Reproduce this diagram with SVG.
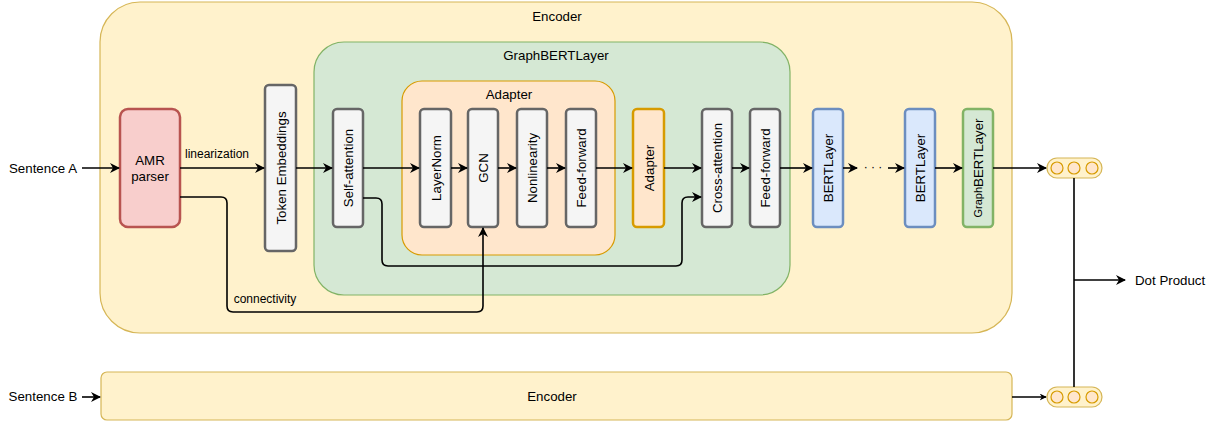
<svg xmlns="http://www.w3.org/2000/svg" width="1217" height="421" viewBox="0 0 1217 421">
<defs>
<marker id="ah" viewBox="0 0 10 10" refX="9" refY="5" markerWidth="7" markerHeight="7" markerUnits="userSpaceOnUse" orient="auto">
<path d="M0,0 L10,5 L0,10 L3,5 Z" fill="#000"/>
</marker>
<marker id="ahs" viewBox="0 0 10 10" refX="9" refY="5" markerWidth="10" markerHeight="10" orient="auto" markerUnits="userSpaceOnUse">
<path d="M0,0 L10,5 L0,10 L3,5 Z" fill="#000"/>
</marker>
<style>
text{font-family:"Liberation Sans",Arial,sans-serif;font-size:13.3px;fill:#000}
.enc{fill:#fff2cc;stroke:#d6b656;stroke-width:1.2}
.gbl{fill:#d5e8d4;stroke:#82b366;stroke-width:1.2}
.adp{fill:#ffe6cc;stroke:#d79b00;stroke-width:1.2}
.gray{fill:#f5f5f5;stroke:#666;stroke-width:2.5}
.amr{fill:#f8cecc;stroke:#b85450;stroke-width:2.5}
.ora{fill:#ffe6cc;stroke:#d79b00;stroke-width:2.5}
.blue{fill:#dae8fc;stroke:#6c8ebf;stroke-width:2.5}
.grn{fill:#d5e8d4;stroke:#82b366;stroke-width:2.5}
.vec{fill:#fff2cc;stroke:#d6b656;stroke-width:1.2}
.dot{fill:#ffe6cc;stroke:#d79b00;stroke-width:1.2}
.c{stroke:#000;stroke-width:1.6;fill:none}
.mid{text-anchor:middle;dominant-baseline:central}
.lbl{font-size:12px}
</style>
</defs>

<g id="encoder-a">
<rect class="enc" x="100" y="2" width="912" height="331" rx="40"/>
<text class="mid" x="557" y="16">Encoder</text>
</g>
<g id="graphbertlayer">
<rect class="gbl" x="314" y="42" width="476" height="253" rx="30"/>
<text class="mid" x="556" y="55">GraphBERTLayer</text>
</g>
<g id="adapter-group">
<rect class="adp" x="402" y="81" width="213" height="174" rx="20"/>
<text class="mid" x="509" y="94">Adapter</text>
</g>
<g id="encoder-b">
<rect class="enc" x="101" y="372" width="911" height="48" rx="6"/>
<text class="mid" x="552" y="396">Encoder</text>
</g>

<g id="sentence-a"><text class="mid" x="43" y="168">Sentence A</text></g>
<g id="sentence-b"><text class="mid" x="43" y="396">Sentence B</text></g>

<g id="amr-parser">
<rect class="amr" x="120" y="109" width="60" height="118" rx="8"/>
<text class="mid" x="150" y="160">AMR</text>
<text class="mid" x="150" y="176">parser</text>
</g>
<g id="token-embeddings">
<rect class="gray" x="265" y="85" width="31" height="166" rx="4"/>
<text class="mid" transform="translate(281,168) rotate(-90)">Token Embeddings</text>
</g>
<g id="self-attention">
<rect class="gray" x="333" y="109" width="30" height="118" rx="4"/>
<text class="mid" transform="translate(348,168) rotate(-90)">Self-attention</text>
</g>
<g id="layernorm">
<rect class="gray" x="420" y="109" width="31" height="118" rx="4"/>
<text class="mid" transform="translate(436,168) rotate(-90)">LayerNorm</text>
</g>
<g id="gcn">
<rect class="gray" x="468" y="109" width="30" height="118" rx="4"/>
<text class="mid" transform="translate(483,168) rotate(-90)">GCN</text>
</g>
<g id="nonlinearity">
<rect class="gray" x="517" y="109" width="30" height="118" rx="4"/>
<text class="mid" transform="translate(532,168) rotate(-90)">Nonlinearity</text>
</g>
<g id="feed-forward-1">
<rect class="gray" x="566" y="109" width="30" height="118" rx="4"/>
<text class="mid" transform="translate(581,168) rotate(-90)">Feed-forward</text>
</g>
<g id="adapter-block">
<rect class="ora" x="633" y="109" width="31" height="118" rx="4"/>
<text class="mid" transform="translate(649,168) rotate(-90)">Adapter</text>
</g>
<g id="cross-attention">
<rect class="gray" x="702" y="109" width="30" height="118" rx="4"/>
<text class="mid" transform="translate(717,168) rotate(-90)">Cross-attention</text>
</g>
<g id="feed-forward-2">
<rect class="gray" x="750" y="109" width="30" height="118" rx="4"/>
<text class="mid" transform="translate(765,168) rotate(-90)">Feed-forward</text>
</g>
<g id="bertlayer-1">
<rect class="blue" x="813" y="109" width="30" height="118" rx="4"/>
<text class="mid" transform="translate(828,168) rotate(-90)">BERTLayer</text>
</g>
<g id="bertlayer-2">
<rect class="blue" x="905" y="109" width="30" height="118" rx="4"/>
<text class="mid" transform="translate(920,168) rotate(-90)">BERTLayer</text>
</g>
<g id="graphbertlayer-small">
<rect class="grn" x="963" y="109" width="30" height="118" rx="4"/>
<text class="mid" transform="translate(978,168) rotate(-90)"><tspan font-size="11">Graph</tspan>BERTLayer</text>
</g>

<g id="vector-a">
<rect class="vec" x="1047" y="158" width="55" height="20" rx="10"/>
<circle class="dot" cx="1057" cy="168" r="6"/>
<circle class="dot" cx="1074" cy="168" r="6"/>
<circle class="dot" cx="1092" cy="168" r="6"/>
</g>
<g id="vector-b">
<rect class="vec" x="1047" y="387" width="55" height="20" rx="10"/>
<circle class="dot" cx="1057" cy="397" r="6"/>
<circle class="dot" cx="1074" cy="397" r="6"/>
<circle class="dot" cx="1092" cy="397" r="6"/>
</g>
<g id="dot-product"><text x="1135" y="280" dominant-baseline="central">Dot Product</text></g>

<g id="connectors">
<line class="c" x1="82" y1="168" x2="119" y2="168" marker-end="url(#ahs)"/>
<line class="c" x1="180" y1="168" x2="264" y2="168" marker-end="url(#ahs)"/>
<text class="mid lbl" x="217" y="154">linearization</text>
<line class="c" x1="296" y1="168" x2="332" y2="168" marker-end="url(#ahs)"/>
<line class="c" x1="363" y1="168" x2="419" y2="168" marker-end="url(#ahs)"/>
<line class="c" x1="451" y1="168" x2="467" y2="168" marker-end="url(#ahs)"/>
<line class="c" x1="498" y1="168" x2="516" y2="168" marker-end="url(#ahs)"/>
<line class="c" x1="547" y1="168" x2="565" y2="168" marker-end="url(#ahs)"/>
<line class="c" x1="596" y1="168" x2="632" y2="168" marker-end="url(#ahs)"/>
<line class="c" x1="664" y1="168" x2="701" y2="168" marker-end="url(#ahs)"/>
<line class="c" x1="732" y1="168" x2="749" y2="168" marker-end="url(#ahs)"/>
<line class="c" x1="780" y1="168" x2="812" y2="168" marker-end="url(#ahs)"/>
<line class="c" x1="843" y1="168" x2="857" y2="168" marker-end="url(#ahs)"/>
<text class="mid lbl" x="873" y="167">· · ·</text>
<line class="c" x1="888" y1="168" x2="904" y2="168" marker-end="url(#ahs)"/>
<line class="c" x1="935" y1="168" x2="962" y2="168" marker-end="url(#ahs)"/>
<line class="c" x1="993" y1="168" x2="1046" y2="168" marker-end="url(#ahs)"/>
<path class="c" d="M180,197 H221 Q227,197 227,203 V306 Q227,312 233,312 H477 Q483,312 483,306 V228" marker-end="url(#ahs)"/>
<text class="mid lbl" x="265" y="299">connectivity</text>
<path class="c" d="M363,198 H376 Q382,198 382,204 V260 Q382,266 388,266 H676 Q682,266 682,260 V203 Q682,197 688,197 H701" marker-end="url(#ahs)"/>
<line class="c" x1="1074" y1="178" x2="1074" y2="387"/>
<line class="c" x1="1074" y1="280" x2="1125" y2="280" marker-end="url(#ahs)"/>
<line class="c" x1="1012" y1="397" x2="1046" y2="397" stroke-width="1" marker-end="url(#ah)"/>
<line class="c" x1="82" y1="397" x2="100" y2="397" marker-end="url(#ahs)"/>
</g>
</svg>
